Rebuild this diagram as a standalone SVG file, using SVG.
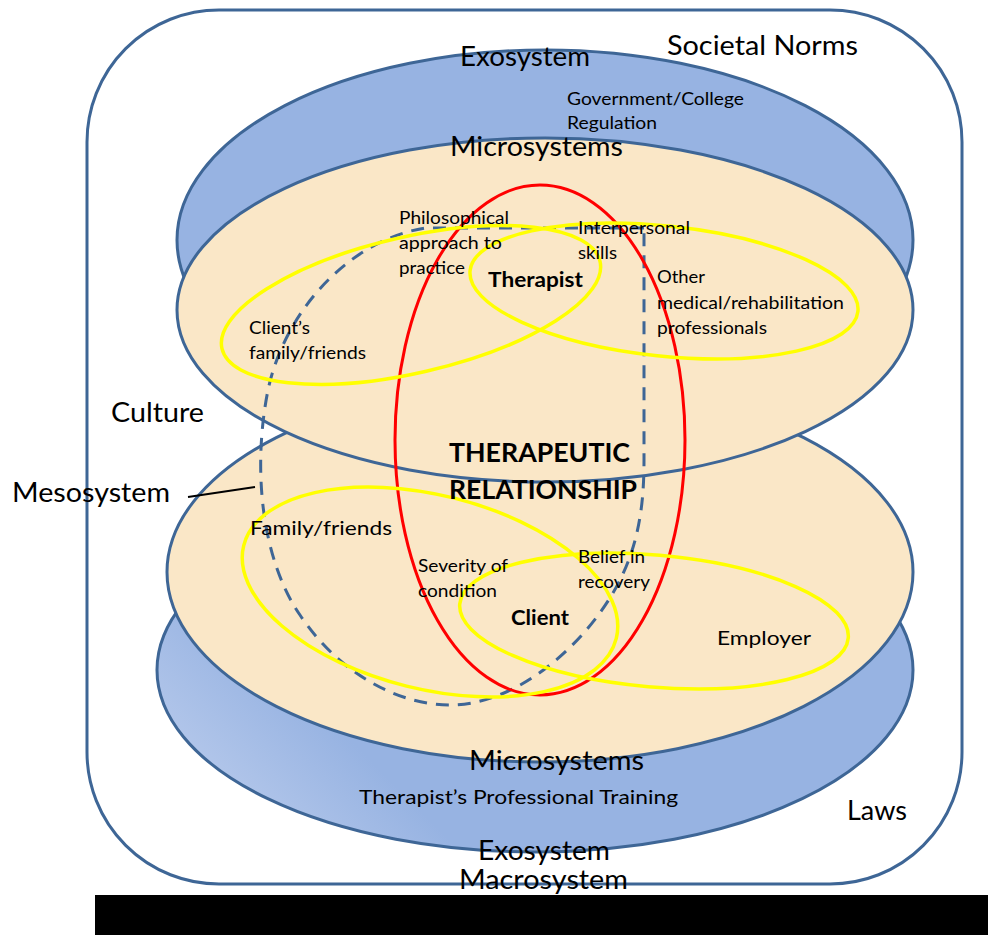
<svg xmlns="http://www.w3.org/2000/svg" width="988" height="935" viewBox="0 0 988 935">
  <style>
    .frame { fill: #ffffff; stroke: #3E6696; stroke-width: 3; }
    .exo { fill: #97B3E2; stroke: #3E6696; stroke-width: 3; }
    .micro { fill: #FAE7C7; stroke: #3E6696; stroke-width: 3; }
    .meso { fill: none; stroke: #3E6696; stroke-width: 3; stroke-dasharray: 13 9; }
    .rel { fill: none; stroke: #FF0000; stroke-width: 3; }
    .yel { fill: none; stroke: #FFFF00; stroke-width: 3.5; }
    .lead { fill: none; stroke: #000000; stroke-width: 2; }
    text { font-family: Lato, "Liberation Sans", sans-serif; fill: #000000; }
    .big { font-size: 26px; }
    .med { font-size: 20px; }
    .sm { font-size: 16.5px; }
    .bold { font-weight: bold; font-size: 21.5px; }
    .bigbold { font-weight: bold; font-size: 26px; }
  </style>
  <defs>
    <linearGradient id="exoGrad" gradientUnits="userSpaceOnUse" x1="220" y1="830" x2="330" y2="720">
      <stop offset="0" stop-color="#B9CBEC"/>
      <stop offset="1" stop-color="#97B3E2"/>
    </linearGradient>
  </defs>

  <g id="macrosystem">
    <rect class="frame" x="87" y="10" width="875" height="874" rx="132" ry="132"/>
  </g>

  <g id="exosystem-top">
    <ellipse class="exo" cx="545" cy="240" rx="368" ry="190"/>
  </g>
  <g id="exosystem-bottom">
    <ellipse class="exo" cx="535" cy="670" rx="378" ry="182" style="fill:url(#exoGrad)"/>
  </g>
  <g id="microsystems-bottom">
    <ellipse class="micro" cx="540" cy="572" rx="373" ry="190"/>
  </g>
  <g id="microsystems-top">
    <ellipse class="micro" cx="545" cy="310" rx="368" ry="172"/>
  </g>

  <g id="mesosystem">
    <path class="meso" d="M 644 228 L 425 228 C 350 240, 285 310, 268 390 C 252 470, 262 560, 300 615 C 340 675, 400 705, 450 705 C 520 705, 590 640, 620 580 C 640 540, 644 500, 644 460 Z"/>
  </g>

  <g id="therapeutic-relationship">
    <ellipse class="rel" cx="540" cy="440" rx="145" ry="255"/>
  </g>

  <g id="clients-family">
    <ellipse class="yel" cx="0" cy="0" rx="194" ry="68" transform="translate(411 305) rotate(-13)"/>
  </g>
  <g id="other-professionals">
    <ellipse class="yel" cx="0" cy="0" rx="195" ry="65" transform="translate(664 291) rotate(6)"/>
  </g>
  <g id="family-friends">
    <ellipse class="yel" cx="0" cy="0" rx="192" ry="97" transform="translate(430 592) rotate(14)"/>
  </g>
  <g id="employer">
    <ellipse class="yel" cx="0" cy="0" rx="195" ry="66" transform="translate(654 621) rotate(5)"/>
  </g>

  <g id="connectors">
    <line class="lead" x1="188" y1="497" x2="255" y2="487"/>
  </g>

  <g id="labels">
    <text class="big" x="460" y="66" textLength="130" lengthAdjust="spacingAndGlyphs">Exosystem</text>
    <text class="big" x="667" y="55" textLength="191" lengthAdjust="spacingAndGlyphs">Societal Norms</text>
    <text class="sm" x="567" y="105" textLength="177" lengthAdjust="spacingAndGlyphs">Government/College</text>
    <text class="sm" x="567" y="129" textLength="90" lengthAdjust="spacingAndGlyphs">Regulation</text>
    <text class="big" x="450" y="156" textLength="173" lengthAdjust="spacingAndGlyphs">Microsystems</text>
    <text class="sm" x="399" y="224" textLength="110" lengthAdjust="spacingAndGlyphs">Philosophical</text>
    <text class="sm" x="399" y="249" textLength="103" lengthAdjust="spacingAndGlyphs">approach to</text>
    <text class="sm" x="399" y="274" textLength="66" lengthAdjust="spacingAndGlyphs">practice</text>
    <text class="sm" x="578" y="234" textLength="112" lengthAdjust="spacingAndGlyphs">Interpersonal</text>
    <text class="sm" x="578" y="259" textLength="39" lengthAdjust="spacingAndGlyphs">skills</text>
    <text class="bold" x="488" y="287" textLength="95" lengthAdjust="spacingAndGlyphs">Therapist</text>
    <text class="sm" x="657" y="283" textLength="48" lengthAdjust="spacingAndGlyphs">Other</text>
    <text class="sm" x="657" y="309" textLength="187" lengthAdjust="spacingAndGlyphs">medical/rehabilitation</text>
    <text class="sm" x="657" y="334" textLength="110" lengthAdjust="spacingAndGlyphs">professionals</text>
    <text class="sm" x="249" y="334" textLength="61" lengthAdjust="spacingAndGlyphs">Client’s</text>
    <text class="sm" x="249" y="359" textLength="117" lengthAdjust="spacingAndGlyphs">family/friends</text>
    <text class="big" x="111" y="422" textLength="93" lengthAdjust="spacingAndGlyphs">Culture</text>
    <text class="big" x="12" y="502" textLength="158" lengthAdjust="spacingAndGlyphs">Mesosystem</text>
    <text class="bigbold" x="449" y="462" textLength="181" lengthAdjust="spacingAndGlyphs">THERAPEUTIC</text>
    <text class="bigbold" x="449" y="499" textLength="188" lengthAdjust="spacingAndGlyphs">RELATIONSHIP</text>
    <text class="med" x="250" y="535" textLength="142" lengthAdjust="spacingAndGlyphs">Family/friends</text>
    <text class="sm" x="418" y="572" textLength="90" lengthAdjust="spacingAndGlyphs">Severity of</text>
    <text class="sm" x="418" y="597" textLength="79" lengthAdjust="spacingAndGlyphs">condition</text>
    <text class="sm" x="578" y="563" textLength="67" lengthAdjust="spacingAndGlyphs">Belief in</text>
    <text class="sm" x="578" y="588" textLength="72" lengthAdjust="spacingAndGlyphs">recovery</text>
    <text class="bold" x="511" y="625" textLength="58" lengthAdjust="spacingAndGlyphs">Client</text>
    <text class="med" x="717" y="645" textLength="94" lengthAdjust="spacingAndGlyphs">Employer</text>
    <text class="big" x="469" y="770" textLength="175" lengthAdjust="spacingAndGlyphs">Microsystems</text>
    <text class="med" x="359" y="804" textLength="319" lengthAdjust="spacingAndGlyphs">Therapist’s Professional Training</text>
    <text class="big" x="847" y="820" textLength="60" lengthAdjust="spacingAndGlyphs">Laws</text>
    <text class="big" x="478" y="860" textLength="132" lengthAdjust="spacingAndGlyphs">Exosystem</text>
    <text class="big" x="459" y="889" textLength="169" lengthAdjust="spacingAndGlyphs">Macrosystem</text>
  </g>

  <rect x="95" y="895" width="893" height="40" fill="#000000"/>
</svg>
